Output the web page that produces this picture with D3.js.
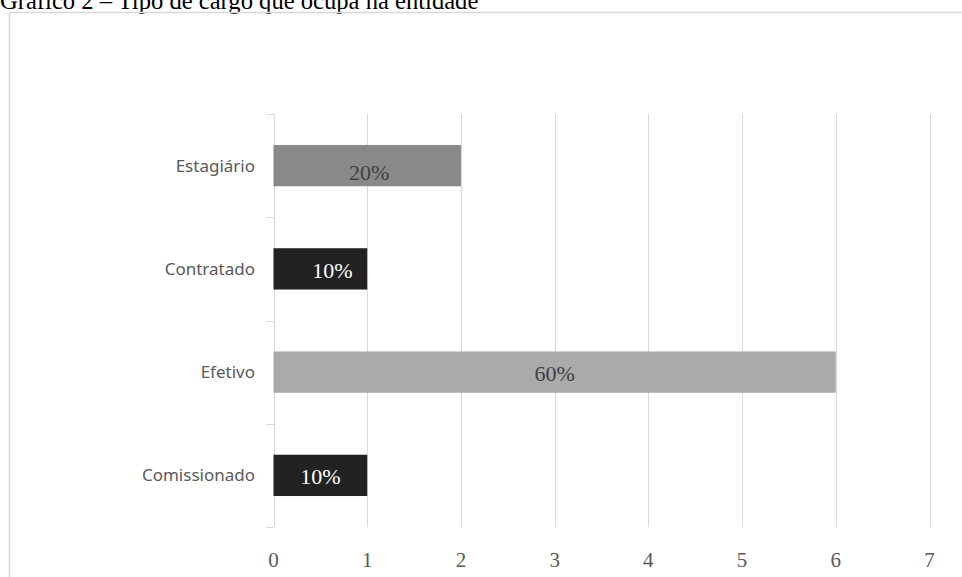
<!DOCTYPE html>
<html>
<head>
<meta charset="utf-8">
<script src="https://cdn.jsdelivr.net/npm/d3@7"></script>
<style>
  html, body { margin: 0; padding: 0; background: #fff; }
  svg { display: block; }
</style>
</head>
<body>
<script>
// ---- data ----
const title = "Gráfico 2 – Tipo de cargo que ocupa na entidade";
const categories = ["Estagiário", "Contratado", "Efetivo", "Comissionado"];
const values = [2, 1, 6, 1];
const percentLabels = ["20%", "10%", "60%", "10%"];
const barColors = ["#898989", "#222222", "#aaaaaa", "#222222"];
const labelColors = ["#404040", "#ffffff", "#404040", "#ffffff"];
const xTicks = [0, 1, 2, 3, 4, 5, 6, 7];

// ---- layout ----
const W = 962, H = 577;
const svg = d3.select("body").append("svg").attr("width", W).attr("height", H);

// title (partially cut off at top, as in the reference)
svg.append("text")
  .attr("x", 0).attr("y", 8.5)
  .attr("font-family", "'Liberation Serif', 'Times New Roman', serif")
  .attr("font-size", 24.6)
  .attr("fill", "#000")
  .text(title);

// chart frame
svg.append("rect")
  .attr("x", 9.5).attr("y", 12.5)
  .attr("width", 980).attr("height", 600)
  .attr("fill", "none")
  .attr("stroke", "#d9d9d9")
  .attr("stroke-width", 1.6);

const x = d3.scaleLinear().domain([0, 7]).range([273.5, 929.5]);
const y = d3.scaleBand().domain(categories).range([114, 527])
  .paddingInner(0.6).paddingOuter(0.3);

// gridlines
svg.append("g").selectAll("line").data(xTicks).join("line")
  .attr("x1", d => Math.round(x(d)) + 0.5).attr("x2", d => Math.round(x(d)) + 0.5)
  .attr("y1", 114).attr("y2", 527)
  .attr("stroke", "#d9d9d9").attr("stroke-width", 1);

// category axis ticks (band boundaries)
const step = y.step();
const boundaries = d3.range(categories.length + 1).map(i => 114 + i * step);
svg.append("g").selectAll("line").data(boundaries).join("line")
  .attr("x1", 266).attr("x2", 274)
  .attr("y1", d => Math.round(d) + 0.5).attr("y2", d => Math.round(d) + 0.5)
  .attr("stroke", "#d9d9d9").attr("stroke-width", 1);

// category labels
svg.append("g").selectAll("text").data(categories).join("text")
  .attr("x", 255)
  .attr("y", d => y(d) + y.bandwidth() / 2)
  .attr("dy", "0.35em")
  .attr("text-anchor", "end")
  .attr("font-family", "'Noto Sans', 'Open Sans', sans-serif")
  .attr("font-size", 17)
  .attr("fill", "#595959")
  .text(d => d);

// x tick labels
svg.append("g").selectAll("text").data(xTicks).join("text")
  .attr("x", d => x(d))
  .attr("y", 567)
  .attr("text-anchor", "middle")
  .attr("font-family", "'Liberation Serif', 'Times New Roman', serif")
  .attr("font-size", 21)
  .attr("fill", "#595959")
  .text(d => d);

// bars
const rows = categories.map((c, i) => ({ c, v: values[i], lab: percentLabels[i], col: barColors[i], lc: labelColors[i] }));
svg.append("g").selectAll("rect").data(rows).join("rect")
  .attr("x", x(0))
  .attr("y", d => y(d.c))
  .attr("width", d => x(d.v) - x(0))
  .attr("height", y.bandwidth())
  .attr("fill", d => d.col);

// data labels
const labelShift = { "Contratado": [12, 0], "Estagiário": [2, 5] };
svg.append("g").selectAll("text").data(rows).join("text")
  .attr("x", d => (x(0) + x(d.v)) / 2 + (labelShift[d.c] ? labelShift[d.c][0] : 0))
  .attr("y", d => y(d.c) + y.bandwidth() / 2 + 9 + (labelShift[d.c] ? labelShift[d.c][1] : 0))
  .attr("text-anchor", "middle")
  .attr("font-family", "'Liberation Serif', 'Times New Roman', serif")
  .attr("font-size", 22)
  .attr("fill", d => d.lc)
  .text(d => d.lab);
</script>
</body>
</html>
